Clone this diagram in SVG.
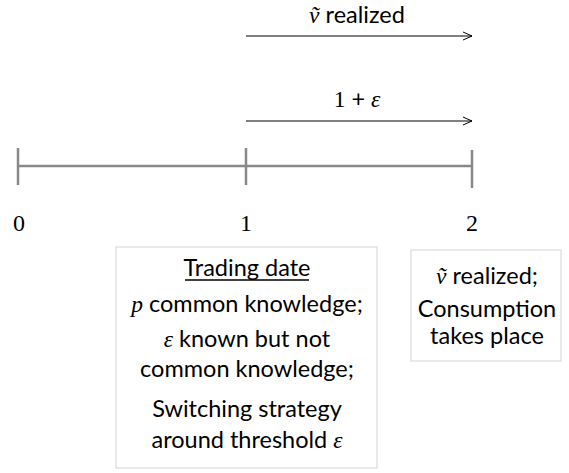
<svg xmlns="http://www.w3.org/2000/svg" width="569" height="473" viewBox="0 0 569 473">
<style>
.t{font-family:Lato,"Open Sans","Liberation Sans",sans-serif;font-size:23.5px;fill:#000;text-anchor:middle}
.m{font-family:"Liberation Serif","DejaVu Serif",serif;font-style:italic}
.u{font-family:"Liberation Serif","DejaVu Serif",serif}
.n{font-family:"Liberation Serif","DejaVu Serif",serif;font-size:24px;fill:#000;text-anchor:middle}
.box{fill:#fff;stroke:#d4d4d4;stroke-width:1}
.tl{stroke:#888;stroke-width:2.5;fill:none}
.ar{stroke:#000;stroke-width:1;fill:none}
</style>
<defs>
<marker id="ah" markerWidth="12" markerHeight="10" refX="10" refY="5" orient="auto" markerUnits="userSpaceOnUse">
<path d="M1,1 L10,5 L1,9" fill="none" stroke="#000" stroke-width="1"/>
</marker>
</defs>
<rect width="569" height="473" fill="#fff"/>
<g id="connectors">
<line class="ar" x1="246" y1="36" x2="472" y2="36" marker-end="url(#ah)"/>
<line class="ar" x1="246" y1="121" x2="472" y2="121" marker-end="url(#ah)"/>
<line class="tl" x1="18" y1="166" x2="472" y2="166"/>
<line class="tl" x1="18" y1="148" x2="18" y2="185"/>
<line class="tl" x1="246" y1="148" x2="246" y2="185"/>
<line class="tl" x1="472" y1="150" x2="472" y2="188"/>
</g>
<g id="label-top"><text class="t" x="357" y="23"><tspan class="m">ṽ</tspan> realized</text></g>
<g id="label-mid"><text class="t" x="357" y="107"><tspan class="u">1</tspan> + <tspan class="m">ε</tspan></text></g>
<g id="tick-0"><text class="n" x="19" y="231">0</text></g>
<g id="tick-1"><text class="n" x="246" y="231">1</text></g>
<g id="tick-2"><text class="n" x="472" y="231">2</text></g>
<g id="box-trading">
<rect class="box" x="116" y="247" width="261" height="221"/>
<text class="t" x="247" y="276">Trading date</text>
<line x1="185" y1="280" x2="309" y2="280" stroke="#000" stroke-width="1.3"/>
<text class="t" x="247" y="312"><tspan class="m">p</tspan> common knowledge;</text>
<text class="t" x="247" y="347"><tspan class="m">ε</tspan> known but not</text>
<text class="t" x="247" y="377">common knowledge;</text>
<text class="t" x="247" y="417">Switching strategy</text>
<text class="t" x="247" y="448">around threshold <tspan class="m">ε</tspan></text>
</g>
<g id="box-consumption">
<rect class="box" x="411" y="250" width="150" height="111"/>
<text class="t" x="487" y="284"><tspan class="m">ṽ</tspan> realized;</text>
<text class="t" x="487" y="317">Consumption</text>
<text class="t" x="487" y="344">takes place</text>
</g>
</svg>
